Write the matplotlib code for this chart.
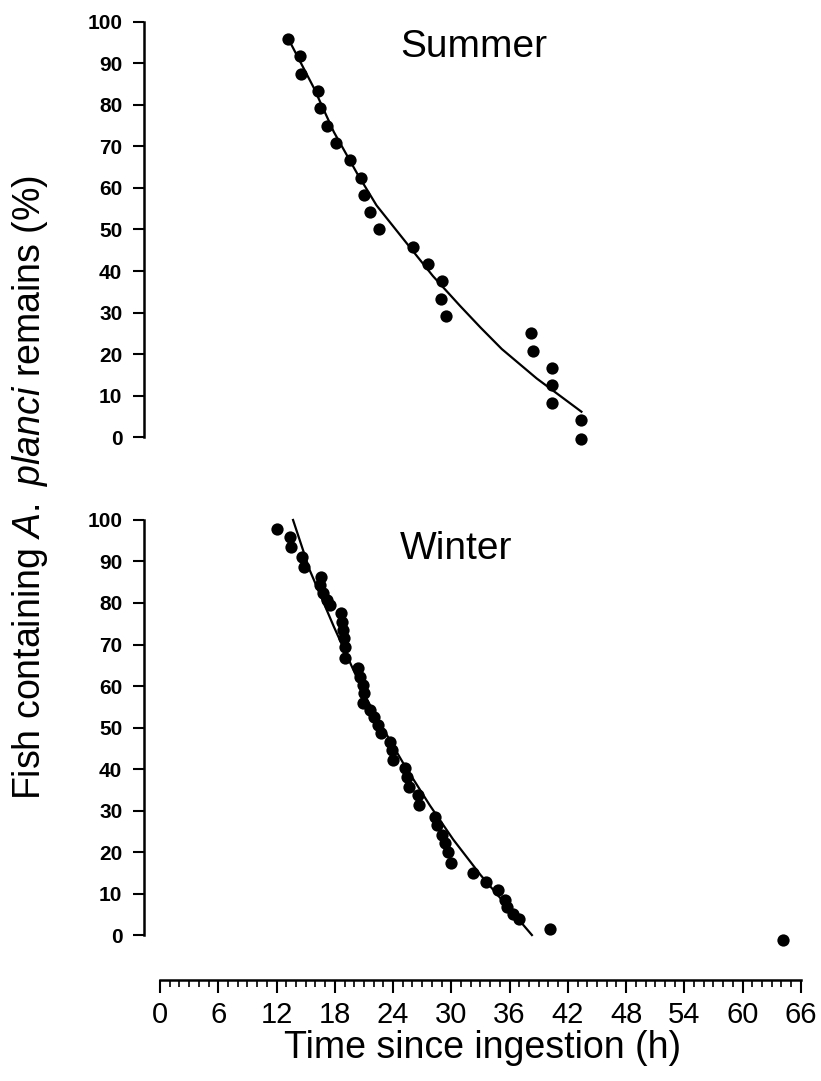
import matplotlib
matplotlib.use("Agg")
from matplotlib import pyplot as plt
from matplotlib.ticker import FixedLocator

plt.rcParams['font.family'] = ['Liberation Sans', 'DejaVu Sans']
plt.rcParams['mathtext.fontset'] = 'custom'
plt.rcParams['mathtext.rm'] = 'Liberation Sans'
plt.rcParams['mathtext.it'] = 'Liberation Sans:italic'

# Summer: observed points (time in h, % remaining)
summer_t = [13.2, 14.4, 14.5, 16.3, 16.5, 17.2, 18.1, 19.6, 20.7, 21.0, 21.6, 22.6,
            26.1, 27.6, 29.0, 28.9, 29.5, 38.2, 38.4, 40.4, 40.4, 40.4, 43.4, 43.4]
summer_y = [95.8, 91.7, 87.5, 83.3, 79.2, 75.0, 70.8, 66.7, 62.5, 58.3, 54.2, 50.0,
            45.8, 41.7, 37.5, 33.3, 29.2, 25.0, 20.8, 16.7, 12.5, 8.3, 4.2, -0.5]
# Summer fitted curve
summer_fit_t = [13.2, 15.8, 17.9, 20.3, 22.3, 25.4, 28.1, 30.9, 33.0, 35.2, 38.8, 43.4]
summer_fit_y = [96.0, 84.3, 73.5, 63.5, 55.8, 46.7, 38.8, 31.6, 26.4, 21.2, 14.1, 6.1]

# Winter: observed points
winter_t = [12.0, 13.4, 13.5, 14.6, 14.8, 16.6, 16.5, 16.8, 17.2, 17.5, 18.6, 18.7,
            18.8, 18.9, 19.0, 19.1, 20.4, 20.6, 20.9, 21.0, 20.9, 21.6, 22.0, 22.5,
            22.8, 23.7, 23.9, 24.0, 25.2, 25.4, 25.6, 26.6, 26.7, 28.3, 28.5, 29.0,
            29.4, 29.7, 30.0, 32.2, 33.6, 34.8, 35.5, 35.7, 36.4, 37.0, 40.2, 64.2]
winter_y = [97.8, 96.0, 93.6, 91.0, 88.7, 86.3, 84.3, 82.5, 80.7, 79.5, 77.7, 75.5,
            73.5, 71.5, 69.5, 66.7, 64.3, 62.2, 60.2, 58.2, 55.8, 54.2, 52.6, 50.6,
            48.6, 46.6, 44.6, 42.2, 40.2, 38.1, 35.7, 33.7, 31.3, 28.5, 26.5, 24.1,
            22.1, 20.1, 17.3, 14.9, 12.8, 10.8, 8.5, 6.7, 5.0, 3.8, 1.4, -1.2]
# Winter fitted curve
winter_fit_t = [13.7, 15.4, 17.9, 19.6, 21.3, 23.7, 25.1, 27.8, 30.2, 33.0, 38.3]
winter_fit_y = [100.0, 88.0, 74.3, 65.5, 56.8, 46.8, 41.2, 31.2, 23.0, 14.5, 0.0]

x_ticks = list(range(0, 67, 6))
x_minor = list(range(0, 67, 1))
y_ticks = list(range(0, 101, 10))

fig = plt.figure(figsize=(8.21, 10.81), dpi=100)

left, width = 0.176, 0.8113
xlim = (-1.6, 67)

panels = [
    (0.5842, summer_t, summer_y, summer_fit_t, summer_fit_y, "Summer", 94),
    (0.1235, winter_t, winter_y, winter_fit_t, winter_fit_y, "Winter", 93),
]

for bottom, t, y, ft, fy, title, ty in panels:
    ax = fig.add_axes([left, bottom, width, 0.4070])
    ax.plot(ft, fy, color='black', linewidth=1.6, zorder=2)
    ax.scatter(t, y, s=78, color='black', zorder=3, linewidths=0)
    ax.set_xlim(*xlim)
    ax.set_ylim(-3, 103)
    for side in ['top', 'right', 'bottom']:
        ax.spines[side].set_visible(False)
    ax.spines['left'].set_bounds(0, 100)
    ax.spines['left'].set_linewidth(1.8)
    ax.set_xticks([])
    ax.set_yticks(y_ticks)
    ax.tick_params(axis='y', direction='out', length=8, width=1.5, pad=8,
                   labelsize=15)
    for lab in ax.get_yticklabels():
        lab.set_fontweight('bold')
    ax.text(24.7, ty, title, fontsize=28, ha='left', va='center')

# shared time axis at the bottom
ax3 = fig.add_axes([left, 0.0934, width, 0.0001])
ax3.set_xlim(*xlim)
for side in ['top', 'right', 'left']:
    ax3.spines[side].set_visible(False)
ax3.spines['bottom'].set_bounds(0, 66)
ax3.spines['bottom'].set_linewidth(1.8)
ax3.set_yticks([])
ax3.set_xticks(x_ticks)
ax3.xaxis.set_minor_locator(FixedLocator(x_minor))
ax3.tick_params(axis='x', which='major', direction='out', length=9, width=1.5,
                pad=6, labelsize=21)
ax3.tick_params(axis='x', which='minor', direction='out', length=5, width=1.2)

fig.text(483 / 821, 1 - 1048 / 1081, "Time since ingestion (h)", fontsize=27,
         ha='center', va='center')
fig.text(30 / 821, 1 - 487 / 1081,
         r"Fish containing $\mathit{A.\ planci}$ remains (%)", fontsize=27,
         rotation=90, ha='center', va='center')

plt.savefig("out.png", dpi=100)
